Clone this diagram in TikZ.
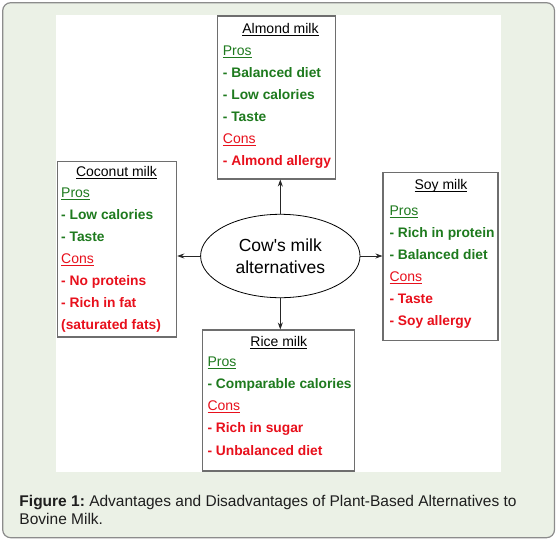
\documentclass[tikz,border=0pt]{standalone}
\usepackage{fontspec}
\setmainfont{Liberation Sans}[Ligatures=TeXOff]
\usetikzlibrary{shapes.geometric,arrows.meta}
\definecolor{frameBg}{HTML}{EBF1E6}
\definecolor{frameLine}{HTML}{8C8C8C}
\definecolor{proGreen}{HTML}{1E7A1E}
\definecolor{conRed}{HTML}{E8101C}
\definecolor{boxLine}{HTML}{6E6E6E}
\definecolor{capText}{HTML}{1E1E1E}
\newcommand\myul[1]{\setbox0\hbox{#1}\rlap{\rule[-2.4pt]{\wd0}{0.8pt}}\box0}
\frenchspacing
\begin{document}
\begin{tikzpicture}[x=1pt,y=-1pt,
  card/.style={draw=boxLine, line width=1.1pt, fill=white, inner sep=0pt, rectangle},
  ttl/.style={anchor=base, inner sep=0pt, text=black, font=\fontsize{14}{16}\selectfont},
  hdP/.style={anchor=base west, inner sep=0pt, text=proGreen, font=\fontsize{14}{16}\selectfont},
  hdC/.style={anchor=base west, inner sep=0pt, text=conRed, font=\fontsize{14}{16}\selectfont},
  itP/.style={anchor=base west, inner sep=0pt, text=proGreen, font=\fontsize{13.8}{16}\selectfont\bfseries},
  itC/.style={anchor=base west, inner sep=0pt, text=conRed, font=\fontsize{13.8}{16}\selectfont\bfseries},
  hub/.style={ellipse, draw=black, line width=0.8pt, fill=white, inner sep=0pt, align=center, font=\fontsize{17.5}{21.6}\selectfont},
  arr/.style={draw=black!85, line width=0.8pt, -{Stealth[length=7pt,width=5pt]}},
  figcap/.style={anchor=base west, inner sep=0pt, text=capText, font=\fontsize{15.5}{18.3}\selectfont\frenchspacing}
]
\useasboundingbox (0,0) rectangle (557,541);
\draw[draw=frameLine, fill=frameBg, rounded corners=8pt, line width=1.2pt] (2.7,2.7) rectangle (554.5,537.7);
\fill[white] (56,15) rectangle (501,471.5);

% boxes
\node[card, minimum width=118.4pt, minimum height=163pt] (almond) at (276.5,97.5) {};
\node[card, minimum width=119.4pt, minimum height=175.3pt] (coconut) at (117,249.35) {};
\node[card, minimum width=115pt, minimum height=167.6pt] (soy) at (440.5,256.5) {};
\node[card, minimum width=151.6pt, minimum height=141pt] (rice) at (278.5,400.5) {};
\node[hub, minimum width=159.4pt, minimum height=83.4pt] (cow) at (280.3,256) {Cow\char"27 s milk\\alternatives};

% connectors
\draw[arr] (cow.north) -- (cow.north |- almond.south);
\draw[arr] (cow.south) -- (cow.south |- rice.north);
\draw[arr] (cow.west) -- (cow.west -| coconut.east);
\draw[arr] (cow.east) -- (cow.east -| soy.west);

% almond
\node[ttl] (a0) at (280.5,33.3) {\myul{Almond milk}};
\node[hdP] (a1) at (222.7,55.7) {\myul{Pros}};
\node[itP] (a2) at (222.7,77.7) {- Balanced diet};
\node[itP] (a3) at (222.7,99.7) {- Low calories};
\node[itP] (a4) at (222.7,121.7) {- Taste};
\node[hdC] (a5) at (222.7,143.3) {\myul{Cons}};
\node[itC] (a6) at (222.7,165.7) {- Almond allergy};

% coconut
\node[ttl] (c0) at (116.5,176) {\myul{Coconut milk}};
\node[hdP] (c1) at (61,197.7) {\myul{Pros}};
\node[itP] (c2) at (61,219.3) {- Low calories};
\node[itP] (c3) at (61,241.7) {- Taste};
\node[hdC] (c4) at (61,263.3) {\myul{Cons}};
\node[itC] (c5) at (61,285.3) {- No proteins};
\node[itC] (c6) at (61,307.3) {- Rich in fat};
\node[itC] (c7) at (61,329.3) {(saturated fats)};

% soy
\node[ttl] (s0) at (441,189.3) {\myul{Soy milk}};
\node[hdP] (s1) at (389.3,215) {\myul{Pros}};
\node[itP] (s2) at (389.3,237.3) {- Rich in protein};
\node[itP] (s3) at (389.3,259.3) {- Balanced diet};
\node[hdC] (s4) at (389.3,281.3) {\myul{Cons}};
\node[itC] (s5) at (389.3,303.3) {- Taste};
\node[itC] (s6) at (389.3,325.3) {- Soy allergy};

% rice
\node[ttl] (r0) at (278.8,346) {\myul{Rice milk}};
\node[hdP] (r1) at (207.3,366.7) {\myul{Pros}};
\node[itP] (r2) at (207.3,388.7) {- Comparable calories};
\node[hdC] (r3) at (207.3,410.7) {\myul{Cons}};
\node[itC] (r4) at (207.3,432.7) {- Rich in sugar};
\node[itC] (r5) at (207.3,455) {- Unbalanced diet};

% caption
\node[figcap] (caption) at (19.3,506.5) {\textbf{Figure 1:} Advantages and Disadvantages of Plant-Based Alternatives to};
\node[figcap] (caption2) at (19.3,524.8) {Bovine Milk.};
\end{tikzpicture}
\end{document}
